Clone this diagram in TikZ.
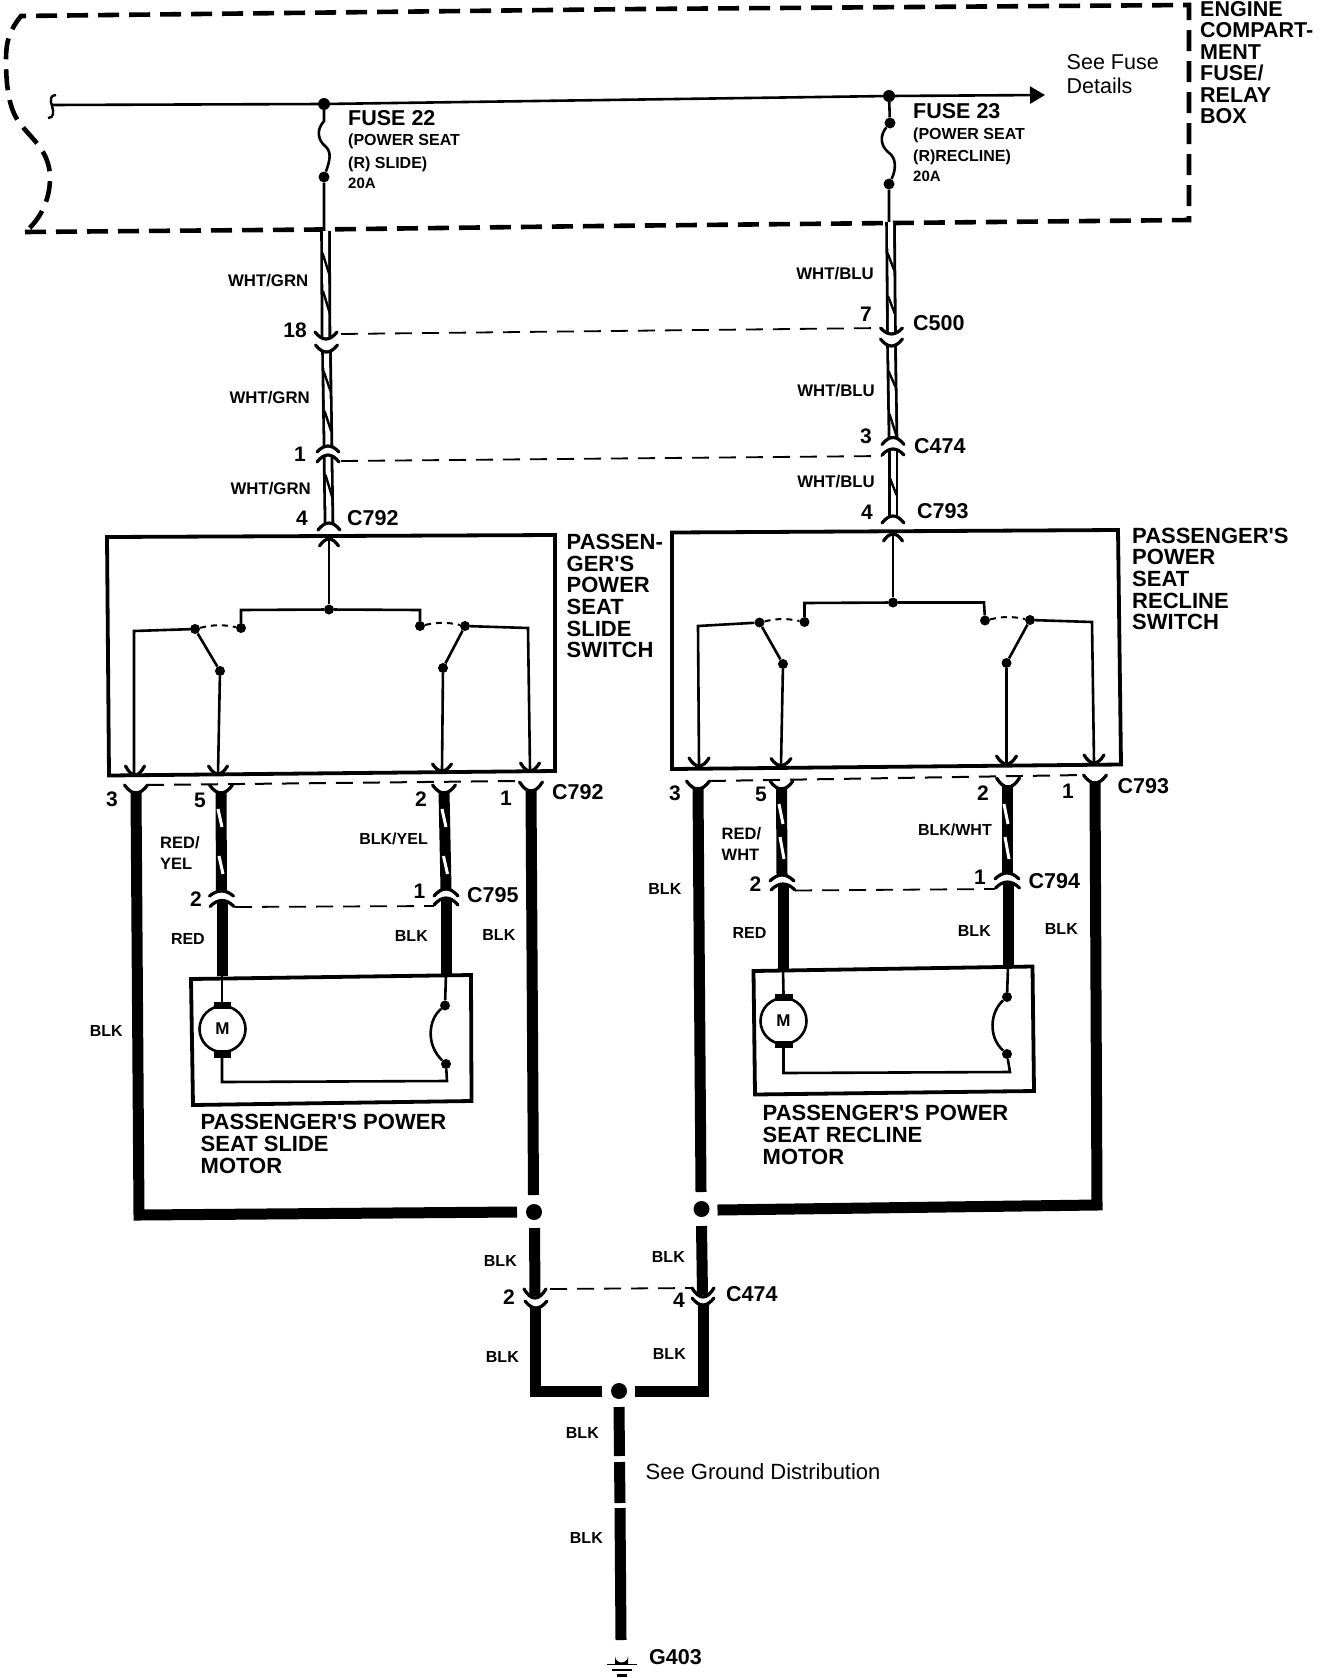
\documentclass[tikz,border=0pt]{standalone}
\usepackage{fontspec}
\setmainfont{Liberation Sans}[Ligatures=TeXOff]
\usetikzlibrary{arrows.meta}
\tikzset{
  dashbox/.style={line width=4.6pt,dash pattern=on 21pt off 10pt},
  conndash/.style={line width=1.8pt,dash pattern=on 17pt off 10pt},
  swdash/.style={line width=2pt,dash pattern=on 6pt off 5pt},
  hollow/.style={line width=2.8pt,double=white,double distance=5pt},
  heavy/.style={line width=11pt},
  thinw/.style={line width=2.6pt,line join=miter},
  frame/.style={line width=3.8pt,line join=miter},
  tip/.style={line width=3.2pt,line cap=round},
  jdot/.style={circle,fill=black,inner sep=0pt,minimum size=#1},
  jdot/.default=10pt,
  wl/.style={font=\fontsize{16}{16}\selectfont\bfseries,inner sep=0pt},
  wg/.style={font=\fontsize{16.8}{16}\selectfont\bfseries,inner sep=0pt,anchor=east},
  sm/.style={font=\fontsize{16}{16}\selectfont\bfseries,inner sep=0pt,anchor=west},
  pin/.style={font=\fontsize{21}{21}\selectfont\bfseries,inner sep=0pt,anchor=east},
  cn/.style={font=\fontsize{21.5}{21}\selectfont\bfseries,inner sep=0pt,anchor=west},
  big/.style={font=\fontsize{22}{21.7}\selectfont\bfseries,inner sep=0pt,anchor=west,align=left},
  reg/.style={font=\fontsize{21.5}{24}\selectfont,inner sep=0pt,anchor=west,align=left},
  motor/.style={circle,draw,line width=2.6pt,minimum size=46pt,inner sep=0pt,font=\fontsize{17}{17}\selectfont\bfseries},
}
\newcommand\fk[4]{\draw[tip] ({#1-#3},{#2-#4}) .. controls ({#1-#3/3},{#2+#4/3}) and ({#1+#3/3},{#2+#4/3}) .. ({#1+#3},{#2-#4});}
\newcommand\zz[3]{\draw[line width=2.4pt] ({#1-3.5},#2) -- ({#1+3.5},#3);}
\newcommand\ws[3]{\draw[white,line width=3pt] ({#1-2},#2) -- ({#1+2},#3);}
\begin{document}
\begin{tikzpicture}[x=1pt,y=-1pt]
\useasboundingbox (0,0) rectangle (1328,1678);
% ---- fuse box outline
\draw[dashbox] (25,232) -- (320,229.5) -- (600,226) -- (1189,220) -- (1189,5) -- (640,9) -- (21,16)
  .. controls (10,30) and (6,40) .. (6,60) .. controls (6,90) and (10,110) .. (19,122)
  .. controls (30,138) and (50,150) .. (50,178) .. controls (50,200) and (40,220) .. (25,232);
% ---- bus
\node[jdot=12pt] (j22) at (324,104) {};
\node[jdot=12pt] (j23) at (889,96) {};
\coordinate (busL) at (51,105);
\coordinate (busR) at (1045,95);
\draw[thinw] (busL) -- (j22) -- (j23);
\draw[thinw,-{Triangle[length=15pt,width=17pt]}] (j23) -- (busR);
\draw[line width=2.4pt] (56,95) .. controls (50,95) and (50,100) .. (52,106) .. controls (54,112) and (54,118) .. (48,118);
\node[reg] (seefuse) at (1066.5,74) {See Fuse\\Details};
\node[big,font=\fontsize{21.5}{21.4}\selectfont\bfseries] (ecb) at (1200,62.5) {ENGINE\\COMPART-\\MENT\\FUSE/\\RELAY\\BOX};
% ---- fuse 22
\node[jdot=11pt] (f22b) at (324,177) {};
\coordinate (f22c) at (324,231);
\draw[thinw] (j22) -- (324,121) .. controls (316,130) and (318,140) .. (325,146) .. controls (332,152) and (330,160) .. (f22b) -- (f22c);
\node[cn] (t22) at (348,118) {FUSE 22};
\node[sm] (t22a) at (348,141) {(POWER SEAT};
\node[sm] (t22b) at (348,164) {(R) SLIDE)};
\node[sm,font=\fontsize{15}{15}\selectfont\bfseries] (t22c) at (348,183) {20A};
% ---- fuse 23
\node[jdot=11pt] (f23a) at (890,123) {};
\node[jdot=11pt] (f23b) at (889,184) {};
\coordinate (f23c) at (889,222);
\draw[thinw] (j23) -- (f23a) .. controls (880,135) and (880,145) .. (888,152) .. controls (897,158) and (896,170) .. (f23b) -- (f23c);
\node[cn] (t23) at (913,111) {FUSE 23};
\node[sm] (t23a) at (913,135) {(POWER SEAT};
\node[sm] (t23b) at (913,157) {(R)RECLINE)};
\node[sm,font=\fontsize{15}{15}\selectfont\bfseries] (t23c) at (913,176) {20A};
% ---- wire 22 hollow
\coordinate (a1) at (325.5,231); \coordinate (a2) at (326,338);
\coordinate (a3) at (326.5,352); \coordinate (a4) at (328,447);
\coordinate (a5) at (328,456); \coordinate (a6) at (329,523);
\draw[hollow] (a1) -- (a2); \draw[hollow] (a3) -- (a4); \draw[hollow] (a5) -- (a6);
\zz{326}{253}{275} \zz{326.5}{291}{314} \zz{327}{371}{391} \zz{328}{411}{432} \zz{329}{475}{498}
\fk{326}{339}{11}{7} \fk{326.5}{352}{11}{7} \fk{328}{446}{11}{-6} \fk{328}{455}{11}{-7} \fk{329}{523}{11}{-7}
% ---- wire 23 hollow
\coordinate (b1) at (890.5,222); \coordinate (b2) at (891.5,333);
\coordinate (b3) at (891.5,346); \coordinate (b4) at (893,438);
\coordinate (b5) at (893,449); \coordinate (b6) at (893,516);
\draw[hollow] (b1) -- (b2); \draw[hollow] (b3) -- (b4); \draw[hollow] (b5) -- (b6);
\zz{891}{253}{271} \zz{891.5}{296}{314} \zz{892}{371}{387} \zz{893}{414}{436} \zz{893}{477}{495}
\fk{891.5}{334}{11}{6} \fk{891.5}{346}{11}{7} \fk{893}{437.5}{11}{-7} \fk{893}{449}{11}{-6} \fk{893}{516}{11}{-7}
% ---- connector dashes
\coordinate (d1l) at (341,334); \coordinate (d1r) at (882,328);
\coordinate (d2l) at (341,461); \coordinate (d2r) at (882,456);
\draw[conndash] (d1l) -- (d1r);
\draw[conndash] (d2l) -- (d2r);
% ---- upper labels
\node[wg] (w1) at (308.5,281) {WHT/GRN};
\node[pin] (p18) at (307,330) {18};
\node[wg] (w2) at (310,397.5) {WHT/GRN};
\node[pin] (p1a) at (306,454) {1};
\node[wg] (w3) at (311,488.5) {WHT/GRN};
\node[pin] (p4a) at (308,518.5) {4};
\node[cn] (c792a) at (347,518) {C792};
\node[wg] (w4) at (874,274) {WHT/BLU};
\node[pin] (p7) at (872,314) {7};
\node[cn] (c500) at (913,323) {C500};
\node[wg] (w5) at (875,391) {WHT/BLU};
\node[pin] (p3a) at (872,436) {3};
\node[cn] (c474a) at (914,446) {C474};
\node[wg] (w6) at (875,482) {WHT/BLU};
\node[pin] (p4b) at (873,512.5) {4};
\node[cn] (c793a) at (917,511) {C793};
% ---- switch 1
\draw[frame] (107,537) -- (555,535) -- (555,771) -- (109,775.5) -- cycle;
\node[big] (sw1t) at (566.5,596) {PASSEN-\\GER'S\\POWER\\SEAT\\SLIDE\\SWITCH};
\node[jdot=10pt] (s1j) at (329,609.5) {};
\node[jdot=10pt] (s1a) at (241,628) {};
\node[jdot=10pt] (s1b) at (420,626) {};
\node[jdot=10pt] (s1p) at (195,629) {};
\node[jdot=10pt] (s1q) at (465,626) {};
\node[jdot=10pt] (s1r) at (220,671) {};
\node[jdot=10pt] (s1s) at (443,668) {};
\draw[thinw] (329,539) -- (s1j);
\fk{329}{539}{9.5}{-7}
\draw[thinw] (s1a) -- (241,610) -- (s1j) -- (420,610) -- (s1b);
\draw[thinw] (s1p) -- (s1r);\draw[thinw] (s1q) -- (s1s);
\draw[swdash] (s1p) to[bend left=12] (s1a);
\draw[swdash] (s1b) to[bend left=12] (s1q);
\coordinate (s1w1) at (134,774); \coordinate (s1w2) at (218,774);
\coordinate (s1w3) at (442,770); \coordinate (s1w4) at (530,770);
\draw[thinw] (s1p) -- (134,631) -- (s1w1);
\draw[thinw] (s1r) -- (s1w2);
\draw[thinw] (s1s) -- (s1w3);
\draw[thinw] (s1q) -- (528,628) -- (s1w4);
\fk{135}{775}{9.5}{9} \fk{218}{774}{9.5}{8} \fk{442}{771}{9.5}{7} \fk{530}{771}{9.5}{8}
% ---- switch 2
\draw[frame] (672,532.5) -- (1118,530) -- (1121,764.5) -- (672,769) -- cycle;
\node[big] (sw2t) at (1132,579) {PASSENGER'S\\POWER\\SEAT\\RECLINE\\SWITCH};
\node[jdot=10pt] (s2j) at (893,602.5) {};
\node[jdot=10pt] (s2a) at (804.5,622) {};
\node[jdot=10pt] (s2b) at (985,620.5) {};
\node[jdot=10pt] (s2p) at (759.5,622.5) {};
\node[jdot=10pt] (s2q) at (1030,620) {};
\node[jdot=10pt] (s2r) at (783,664) {};
\node[jdot=10pt] (s2s) at (1006.5,663) {};
\draw[thinw] (893,534) -- (s2j);
\fk{893}{534}{9.5}{-7}
\draw[thinw] (s2a) -- (804.5,603) -- (s2j) -- (984,602.5) -- (s2b);
\draw[thinw] (s2p) -- (s2r);\draw[thinw] (s2q) -- (s2s);
\draw[swdash] (s2p) to[bend left=12] (s2a);
\draw[swdash] (s2b) to[bend left=12] (s2q);
\coordinate (s2w1) at (699,765); \coordinate (s2w2) at (781,765);
\coordinate (s2w3) at (1006.5,763); \coordinate (s2w4) at (1094,762);
\draw[thinw] (s2p) -- (698,626) -- (s2w1);
\draw[thinw] (s2r) -- (s2w2);
\draw[thinw] (s2s) -- (s2w3);
\draw[thinw] (s2q) -- (1092,622) -- (s2w4);
\fk{699}{766}{10}{8} \fk{781}{765.5}{10}{7} \fk{1006.5}{764}{10}{8} \fk{1094}{763}{10}{8}
% ---- lower connector dashes
\draw[line width=2pt,dash pattern=on 17pt off 10pt] (147,785) -- (517,781);
\draw[line width=2pt,dash pattern=on 17pt off 10pt] (709,781) -- (1083,775);
% ---- slide motor wires
\fk{136}{793}{11.5}{8} \fk{221}{793}{11.5}{8} \fk{444}{793}{11.5}{8} \fk{531}{791}{11.5}{9}
\draw[heavy] (221,791) -- (221.5,891);
\draw[heavy] (444,791) -- (446,889);
\ws{220}{809}{827} \ws{221}{856}{874} \ws{444}{809}{827} \ws{445.5}{856}{874}
\fk{221.5}{891}{12}{-5} \fk{222}{900.5}{12}{-6} \fk{446}{889}{12}{-7} \fk{446}{898}{12}{-7}
\coordinate (m1t) at (222,976); \coordinate (m1u) at (446,974);
\draw[heavy] (222,901) -- (m1t);
\draw[heavy] (446,899) -- (m1u);
\draw[conndash] (235,907) -- (434,906);
\node[pin] (q3) at (118,799) {3};
\node[pin] (q5) at (206,800) {5};
\node[pin] (q2) at (427,799) {2};
\node[pin] (q1) at (512,798) {1};
\node[cn] (c792b) at (552,792) {C792};
\node[wl,anchor=west,align=left,font=\fontsize{16.5}{21}\selectfont\bfseries] (ry) at (160,853) {RED/\\YEL};
\node[wl,anchor=east] (by) at (428,839) {BLK/YEL};
\node[pin] (q2b) at (202,899) {2};
\node[pin] (q1b) at (425.5,891.5) {1};
\node[cn] (c795) at (467,895) {C795};
\node[wl,anchor=east] (r1) at (205,938.5) {RED};
\node[wl,anchor=east] (b1l) at (428,936) {BLK};
\node[wl,anchor=east] (b1r) at (515.5,935) {BLK};
\node[wl,anchor=east] (b1o) at (123,1031) {BLK};
% ---- slide motor box
\draw[frame] (191,979) -- (471,975) -- (471.5,1101) -- (193,1105) -- cycle;
\node[motor] (m1) at (222.5,1029) {M};
\fill (214,1002) rectangle (231,1009);
\fill (214,1050) rectangle (231,1058);
\node[jdot=10pt] (m1a) at (445,1005.5) {};
\node[jdot=10pt] (m1b) at (446,1064) {};
\draw[thinw] (m1t) -- (222,1002);
\draw[thinw] (m1u) -- (m1a);
\draw[thinw] (m1a) .. controls (428,1020) and (426,1045) .. (m1b);
\draw[thinw] (222,1058) -- (222,1082) -- (447,1081) -- (m1b);
\node[big] (m1t1) at (200.5,1144) {PASSENGER'S POWER\\SEAT SLIDE\\MOTOR};
% ---- recline motor wires
\fk{698}{789}{11.5}{8} \fk{781.5}{789}{11.5}{8} \fk{1008}{787}{11.5}{9} \fk{1095}{783}{11.5}{8}
\draw[heavy] (781.5,787) -- (782,875);
\draw[heavy] (1007,785) -- (1007,873);
\ws{781}{804}{824} \ws{782}{837}{859} \ws{1006}{804}{824} \ws{1007}{837}{859}
\fk{782}{875}{12}{-6} \fk{783}{884}{12}{-6} \fk{1007}{873}{12}{-6} \fk{1007.5}{882}{12}{-6}
\coordinate (m2t) at (783,969); \coordinate (m2u) at (1008,966.5);
\draw[heavy] (783,885) -- (m2t);
\draw[heavy] (1008,883) -- (m2u);
\draw[conndash] (795,890.5) -- (995,889);
\node[pin] (u3) at (681,793) {3};
\node[pin] (u5) at (767,794.5) {5};
\node[pin] (u2) at (989,793) {2};
\node[pin] (u1) at (1074,791.5) {1};
\node[cn] (c793b) at (1117.5,786.5) {C793};
\node[wl,anchor=west,align=left,font=\fontsize{16.5}{21}\selectfont\bfseries] (rw) at (721.5,844) {RED/\\WHT};
\node[wl,anchor=east] (bw) at (992,830) {BLK/WHT};
\node[pin] (u2b) at (761.5,884) {2};
\node[pin] (u1b) at (986,877) {1};
\node[cn] (c794) at (1028.5,881) {C794};
\node[wl,anchor=east] (r2) at (766.5,933) {RED};
\node[wl,anchor=east] (b2l) at (991,930.5) {BLK};
\node[wl,anchor=east] (b2r) at (1078,929) {BLK};
\node[wl,anchor=east] (b2o) at (681.5,889) {BLK};
% ---- recline motor box
\draw[frame] (753.5,971) -- (1032.5,966.5) -- (1034,1091) -- (755,1094.5) -- cycle;
\node[motor] (m2) at (783.5,1021) {M};
\fill (775,994) rectangle (793,1001);
\fill (775,1041) rectangle (793,1048);
\node[jdot=10pt] (m2a) at (1007,997) {};
\node[jdot=10pt] (m2b) at (1007,1054) {};
\draw[thinw] (m2t) -- (783.5,994);
\draw[thinw] (m2u) -- (m2a);
\draw[thinw] (m2a) .. controls (990,1012) and (988,1037) .. (m2b);
\draw[thinw] (783.5,1048) -- (783.5,1073) -- (1010,1072) -- (m2b);
\node[big] (m2t1) at (762.5,1135) {PASSENGER'S POWER\\SEAT RECLINE\\MOTOR};
% ---- ground side
\node[jdot=16pt] (g1) at (534,1212) {};
\node[jdot=16pt] (g2) at (701.5,1209) {};
\node[jdot=16pt] (g3) at (619,1391) {};
\draw[heavy] (136,791) -- (139,1215) -- (517,1212);
\draw[heavy] (531,789) -- (533.5,1195);
\draw[heavy] (698,787) -- (701,1192);
\draw[heavy] (1095,781) -- (1097,1205) -- (717.5,1210);
\draw[heavy] (534.5,1228) -- (535,1296);
\draw[heavy] (701.5,1226) -- (702.5,1295);
\fk{535}{1298}{11}{9} \fk{536}{1308}{11}{7} \fk{703}{1297}{11}{9} \fk{703}{1305}{11}{7}
\draw[heavy] (535.5,1307) -- (535.5,1391) -- (601.5,1391);
\draw[heavy] (703,1305) -- (703,1391) -- (635,1391);
\draw[conndash] (550,1289) -- (692,1288);
\draw[heavy] (619,1407) -- (619.5,1456);
\draw[heavy] (619.5,1462) -- (620,1503);
\draw[heavy] (620,1508) -- (621,1640);
% ---- ground symbol
\fill (615,1664) -- (615,1656) arc[start angle=180,end angle=360,x radius=6.5pt,y radius=6.5pt] -- (628,1664) -- cycle;
\draw[line width=1.4pt] (607,1664.5) -- (637,1664.5);
\draw[line width=1.4pt] (612,1670) -- (632,1670);
\draw[line width=2.6pt] (617,1675.5) -- (627,1675.5);
\node[wl,anchor=east] (k1) at (517,1261) {BLK};
\node[wl,anchor=east] (k2) at (685,1257) {BLK};
\node[pin] (k3) at (515,1297) {2};
\node[pin] (k4) at (685,1300) {4};
\node[cn] (c474b) at (726,1294) {C474};
\node[wl,anchor=east] (k5) at (519,1357) {BLK};
\node[wl,anchor=east] (k6) at (686,1354) {BLK};
\node[wl,anchor=east] (k7) at (599,1433) {BLK};
\node[reg,font=\fontsize{22}{24}\selectfont] (sgd) at (645.5,1472) {See Ground Distribution};
\node[wl,anchor=east] (k8) at (603,1538) {BLK};
\node[cn] (g403) at (649,1657) {G403};
\end{tikzpicture}
\end{document}
